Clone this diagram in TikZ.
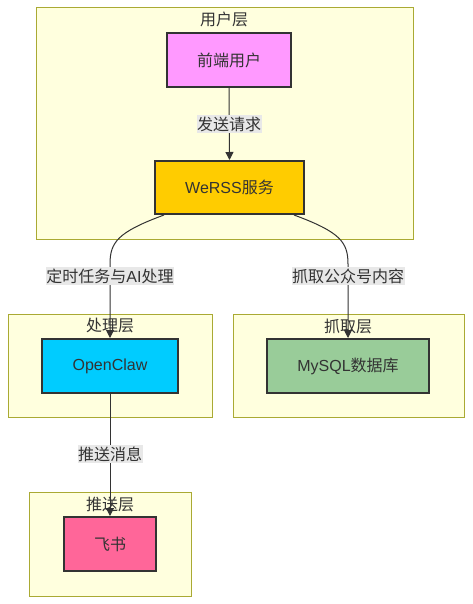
\documentclass[tikz,border=0pt]{standalone}
\usepackage{fontspec}
\setmainfont{Liberation Sans}
\newfontfamily\cjk{Noto Sans CJK SC}
\usetikzlibrary{arrows.meta,calc}
\definecolor{txt}{HTML}{333333}
\definecolor{clfill}{HTML}{FFFFDE}
\definecolor{cldraw}{HTML}{AAAA33}
\definecolor{lblbg}{HTML}{E8E8E8}
\definecolor{cuser}{HTML}{FF99FF}
\definecolor{cweb}{HTML}{FFCC00}
\definecolor{copen}{HTML}{00CCFF}
\definecolor{cdb}{HTML}{99CC99}
\definecolor{cfei}{HTML}{FF6699}
\tikzset{
  cluster/.style={draw=cldraw, fill=clfill, line width=1pt},
  cltitle/.style={text=txt, font=\fontsize{16}{19}\selectfont, inner sep=0pt},
  box/.style={draw=txt, line width=2pt, text=txt, font=\fontsize{16}{19}\selectfont, inner sep=0pt},
  edge/.style={draw=txt, line width=1pt, -{Triangle[length=8pt,width=8pt]}},
  lbl/.style={fill=lblbg, text=txt, font=\fontsize{16}{19}\selectfont, inner xsep=0.5pt, inner ysep=2pt}
}
\begin{document}
\begin{tikzpicture}[x=1pt,y=-1pt]
\useasboundingbox (0,0) rectangle (472,604);
% clusters
\draw[cluster] (36,8) rectangle (413,239);
\node[cltitle] (t1) at (224,19) {\cjk 用户层};
\draw[cluster] (8,314) rectangle (212,417);
\node[cltitle] (t2) at (110,326) {\cjk 处理层};
\draw[cluster] (233,314) rectangle (464,417);
\node[cltitle] (t3) at (348,326) {\cjk 抓取层};
\draw[cluster] (29,492) rectangle (191,596);
\node[cltitle] (t4) at (110,504) {\cjk 推送层};
% nodes
\node[box, fill=cuser, minimum width=124pt, minimum height=54pt] (user) at (229,60) {\cjk 前端用户};
\node[box, fill=cweb, minimum width=149pt, minimum height=53pt] (werss) at (229.5,187.5) {WeRSS{\cjk 服务}};
\node[box, fill=copen, minimum width=136pt, minimum height=54pt] (open) at (110,366) {OpenClaw};
\node[box, fill=cdb, minimum width=162pt, minimum height=54pt] (db) at (348,366) {MySQL{\cjk 数据库}};
\node[box, fill=cfei, minimum width=92pt, minimum height=54pt] (fei) at (110,544) {\cjk 飞书};
% edges
\draw[edge] (user.south) -- (werss.north);
\node[lbl] (l1) at (229,124) {\cjk 发送请求};
\draw[edge] ([xshift=10pt]werss.south west) .. controls (118,232) and (110,242) .. (open.north |- 0,264) -- (open.north);
\node[lbl] (l2) at (110,276) {{\cjk 定时任务与}AI{\cjk 处理}};
\draw[edge] ([xshift=-11pt]werss.south east) .. controls (340,232) and (348,242) .. (db.north |- 0,264) -- (db.north);
\node[lbl] (l3) at (348,276) {\cjk 抓取公众号内容};
\draw[edge] (open.south) -- (fei.north);
\node[lbl] (l4) at (110,454) {\cjk 推送消息};
\end{tikzpicture}
\end{document}
